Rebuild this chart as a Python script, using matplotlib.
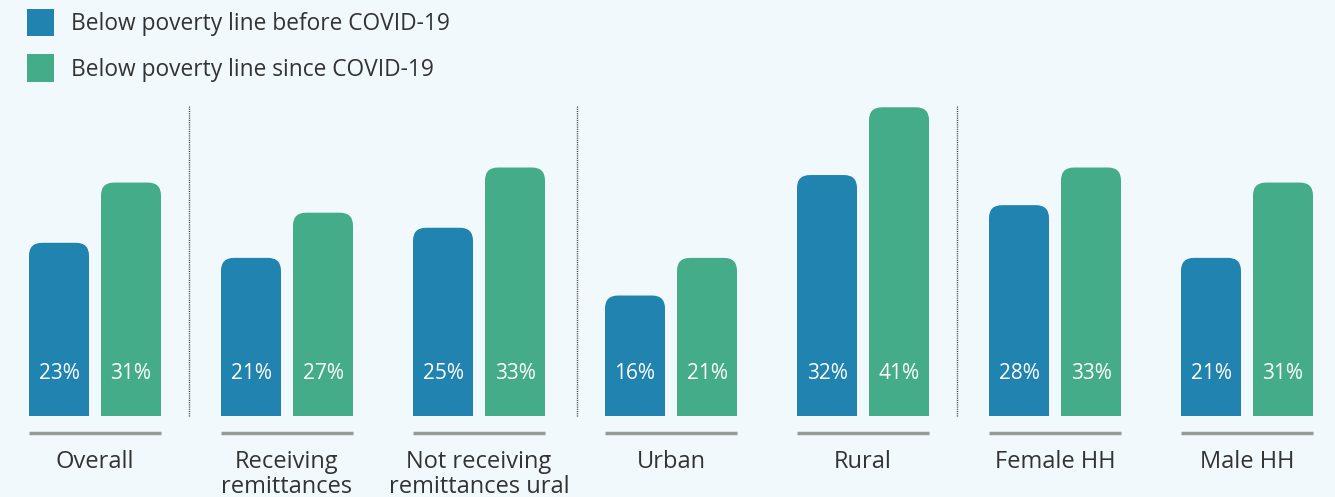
import matplotlib.pyplot as plt
from matplotlib.patches import FancyBboxPatch, Rectangle

plt.rcParams['font.family'] = ['Open Sans', 'DejaVu Sans']

categories = ['Overall', 'Receiving\nremittances', 'Not receiving\nremittances ural',
              'Urban', 'Rural', 'Female HH', 'Male HH']
before = [23, 21, 25, 16, 32, 28, 21]
since = [31, 27, 33, 21, 41, 33, 31]
series_names = ['Below poverty line before COVID-19', 'Below poverty line since COVID-19']

blue = '#2083b0'
green = '#44ac88'
bg = '#f2f9fc'
txt = '#333333'

fig = plt.figure(figsize=(13.35, 4.97), dpi=100, facecolor=bg)
ax = fig.add_axes([0, 0, 1, 1])
ax.set_facecolor(bg)
# pixel layout: group spacing 192px, 7.53px per percent, baseline at y=416px
ax.set_xlim(-95 / 192, (1335 - 95) / 192)
ax.set_ylim(-(497 - 416) / 7.53, 416 / 7.53)
ax.axis('off')

w = 60 / 192
off = 36 / 192
r = 13 / 192
aspect = (13 / 7.53) / r

for i, cat in enumerate(categories):
    for val, dx, col in [(before[i], -off, blue), (since[i], off, green)]:
        x0 = i + dx - w / 2
        ax.add_patch(FancyBboxPatch((x0, 0), w, val,
                                    boxstyle=f'round,pad=0,rounding_size={r}',
                                    mutation_aspect=aspect, fc=col, ec='none'))
        ax.add_patch(Rectangle((x0, 0), w, val / 2, fc=col, ec='none'))
        ax.text(i + dx, 5.6, f'{val}%', color='white', fontsize=15,
                ha='center', va='center')
    ax.plot([i - 66 / 192, i + 66 / 192], [-2.26, -2.26], color='#999999',
            lw=2.5, solid_capstyle='butt')
    ax.text(i, -4.55, cat, color=txt, fontsize=17, ha='center', va='top',
            linespacing=1.05)

for xs in [0.49, 2.51, 4.49]:
    ax.plot([xs, xs], [0, 41.2], color='#444444', lw=1, ls=(0, (0.8, 0.8)))

# legend
for k, (name, col) in enumerate(zip(series_names, [blue, green])):
    yc = 1 - (22.5 + 45.5 * k) / 497
    fig.patches.append(Rectangle((27 / 1335, yc - 13.5 / 497), 27 / 1335, 27 / 497,
                                 transform=fig.transFigure, fc=col, ec='none'))
    fig.text(71 / 1335, yc - 1.5 / 497, name, color=txt, fontsize=16.4,
             va='center', ha='left')

fig.savefig('out.png', dpi=100, facecolor=bg)
